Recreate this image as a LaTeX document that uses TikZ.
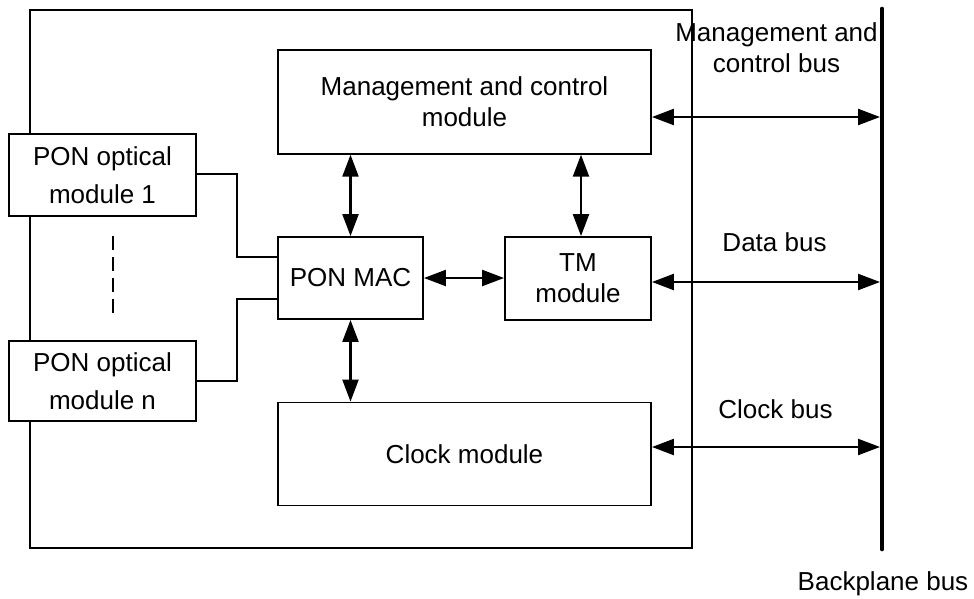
\documentclass[tikz,border=0pt]{standalone}
\usepackage{fontspec}
\setmainfont{Liberation Sans}
\usetikzlibrary{arrows.meta,calc}
\begin{document}
\begin{tikzpicture}[x=1pt,y=-1pt,
  every node/.style={font=\fontsize{26}{31}\selectfont},
  box/.style={draw,line width=1.9pt,rectangle,inner sep=0pt,align=center},
  lbl/.style={align=center,inner sep=0pt},
  link/.style={line width=1.9pt},
  biarrow/.style={line width=2.3pt,{Triangle[length=22pt,width=16pt]}-{Triangle[length=22pt,width=16pt]}},
  busline/.style={line width=4.7pt,line cap=round}]
\useasboundingbox (0,0) rectangle (974,598);
% outer frame
\draw[line width=1.9pt] (30,10) rectangle (692,548);
% boxes
\node[box,minimum width=373pt,minimum height=103.5pt,fill=white] (mgmt) at (464.5,102) {Management and control\\module};
\node[box,minimum width=187pt,minimum height=82.5pt,fill=white,font=\fontsize{26}{38.5}\selectfont] (opt1) at (102.5,175) {PON optical\\module 1};
\node[box,minimum width=187pt,minimum height=80pt,fill=white,font=\fontsize{26}{38.5}\selectfont] (optn) at (102.5,381) {PON optical\\module n};
\node[box,minimum width=145pt,minimum height=82pt] (mac) at (350.5,278) {PON MAC};
\node[box,minimum width=146pt,minimum height=83pt] (tm) at (578,278.5) {TM\\module};
\node[box,minimum width=373pt,minimum height=103pt] (clock) at (464.5,454) {Clock module};
% backplane bus
\coordinate (bustop) at (882,9);
\coordinate (busbot) at (882,549);
\draw[busline] (bustop) -- (busbot);
% bus connection points
\coordinate (bmc) at (880,117);
\coordinate (bdata) at (880,282);
\coordinate (bclk) at (880,447);
% bus arrows
\draw[biarrow] (mgmt.east |- bmc) -- (bmc);
\draw[biarrow] (tm.east |- bdata) -- (bdata);
\draw[biarrow] (clock.east |- bclk) -- (bclk);
% internal arrows
\draw[biarrow] (mgmt.south -| mac.north) -- (mac.north);
\draw[biarrow] ($(mgmt.south -| tm.north)+(3,0)$) -- ($(tm.north)+(3,0)$);
\draw[biarrow] (mac.east) -- (mac.east -| tm.west);
\draw[biarrow] (mac.south) -- (mac.south |- clock.north);
% optical module links
\coordinate (j1) at (237,174);
\coordinate (j2) at (237,299);
\draw[link] (opt1.east |- j1) -- (j1) |- ($(mac.north west)+(0,21)$);
\draw[link] (optn.east |- 0,381) -| (j2) -- (mac.west |- j2);
% dashed ellipsis
\coordinate (d1) at (113,236);
\coordinate (d2) at (113,320);
\draw[line width=1.9pt,dash pattern=on 14pt off 7pt] (d1) -- (d2);
% labels
\node[lbl,anchor=base] (lmc) at (776.5,72) {Management and\\control bus};
\node[lbl,anchor=base] (ldata) at (774.5,251.5) {Data bus};
\node[lbl,anchor=base] (lclk) at (775.5,418) {Clock bus};
\node[lbl,anchor=base] (lbp) at (883,590.5) {Backplane bus};
\end{tikzpicture}
\end{document}
